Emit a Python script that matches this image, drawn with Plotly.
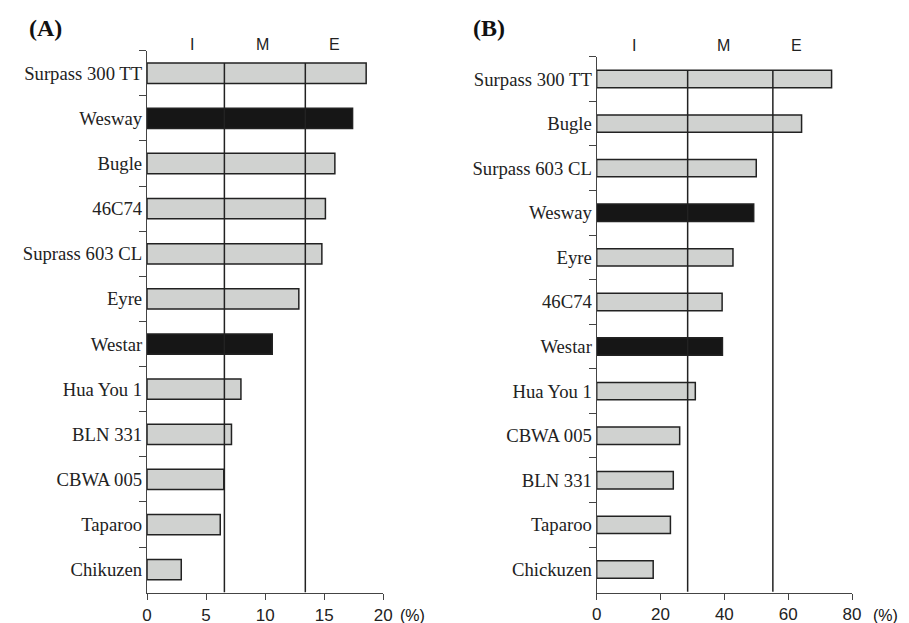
import plotly.graph_objects as go

# ---------------- data ----------------
cats_a = ["Surpass 300 TT", "Wesway", "Bugle", "46C74", "Suprass 603 CL", "Eyre",
          "Westar", "Hua You 1", "BLN 331", "CBWA 005", "Taparoo", "Chikuzen"]
vals_a = [18.55, 17.4, 15.9, 15.1, 14.8, 12.85, 10.6, 7.95, 7.15, 6.5, 6.2, 2.9]
thr_a = [6.55, 13.4]
zone_pos_a = [3.8, 9.8, 15.9]

cats_b = ["Surpass 300 TT", "Bugle", "Surpass 603 CL", "Wesway", "Eyre", "46C74",
          "Westar", "Hua You 1", "CBWA 005", "BLN 331", "Taparoo", "Chickuzen"]
vals_b = [73.6, 64.2, 50.0, 49.2, 42.7, 39.3, 39.4, 30.9, 26.0, 24.0, 23.1, 17.7]
thr_b = [28.5, 55.2]
zone_pos_b = [11.8, 39.7, 62.7]

zone_labels = ["I", "M", "E"]
highlight = ["Wesway", "Westar"]
xticks_a = [0, 5, 10, 15, 20]
xticks_b = [0, 20, 40, 60, 80]

GRAY = "#d0d2d0"
BLACK = "#161616"
EDGE = "#222222"
AXC = "#444444"

W, H = 909, 623
OFF = 8  # page body margin compensation


def px(x):
    return (x - OFF) / W


def py(y):
    return 1 - (y - OFF) / H


def colors(cats):
    return [BLACK if c in highlight else GRAY for c in cats]


fig = go.Figure()
fig.add_trace(go.Bar(y=cats_a, x=vals_a, orientation="h", width=0.45,
                     marker=dict(color=colors(cats_a), line=dict(color=EDGE, width=1.5)),
                     xaxis="x", yaxis="y", showlegend=False))
fig.add_trace(go.Bar(y=cats_b, x=vals_b, orientation="h", width=0.39,
                     marker=dict(color=colors(cats_b), line=dict(color=EDGE, width=1.5)),
                     xaxis="x2", yaxis="y2", showlegend=False))

shapes = []
for t in thr_a:
    shapes.append(dict(type="line", xref="x", yref="y", x0=t, x1=t, y0=-0.225, y1=11.5,
                       line=dict(color="#222222", width=1.5), layer="above"))
for t in thr_b:
    shapes.append(dict(type="line", xref="x2", yref="y2", x0=t, x1=t, y0=-0.195, y1=11.5,
                       line=dict(color="#222222", width=1.5), layer="above"))

ann = []
for lab, xp in zip(zone_labels, zone_pos_a):
    ann.append(dict(x=xp, xref="x", y=py(44), yref="paper", text=lab, showarrow=False,
                    xanchor="center", yanchor="middle",
                    font=dict(family="Liberation Sans", size=16, color="#222")))
for lab, xp in zip(zone_labels, zone_pos_b):
    ann.append(dict(x=xp, xref="x2", y=py(46), yref="paper", text=lab, showarrow=False,
                    xanchor="center", yanchor="middle",
                    font=dict(family="Liberation Sans", size=16, color="#222")))
for txt, x, y, fam, sz in [("<b>(A)</b>", 45, 28, "Liberation Serif", 24),
                           ("<b>(B)</b>", 489, 28, "Liberation Serif", 24),
                           ("(%)", 412, 615, "Liberation Sans", 16),
                           ("(%)", 885, 615, "Liberation Sans", 16)]:
    ann.append(dict(x=px(x), y=py(y), xref="paper", yref="paper", text=txt,
                    showarrow=False, xanchor="center", yanchor="middle",
                    font=dict(family=fam, size=sz, color="#111")))

xa = dict(showline=True, linecolor=AXC, linewidth=1.2, ticks="outside", ticklen=6,
          tickcolor=AXC, tickwidth=1.2, showgrid=False, zeroline=False, automargin=False,
          tickfont=dict(family="Liberation Sans", size=17, color="#222"))
ya = dict(type="category", autorange="reversed", showline=True, linecolor=AXC, linewidth=1.2,
          ticks="outside", ticklen=7, tickcolor=AXC, tickwidth=1.2, tickson="boundaries",
          showgrid=False, zeroline=False, automargin=False,
          tickfont=dict(family="Liberation Serif", size=18.7, color="#222"))

fig.update_layout(
    width=W, height=H, margin=dict(l=0, r=0, t=0, b=0, pad=0, autoexpand=False),
    paper_bgcolor="white", plot_bgcolor="white",
    xaxis=dict(xa, domain=[px(147), px(383.3)], range=[0, 20], tickvals=xticks_a, anchor="y"),
    yaxis=dict(ya, domain=[py(593), py(50.7)], anchor="x"),
    xaxis2=dict(xa, domain=[px(596.7), px(852)], range=[0, 80], tickvals=xticks_b, anchor="y2"),
    yaxis2=dict(ya, domain=[py(592.5), py(56.7)], anchor="x2"),
    shapes=shapes, annotations=ann, bargap=0.5,
)

fig.write_html("out.html")
